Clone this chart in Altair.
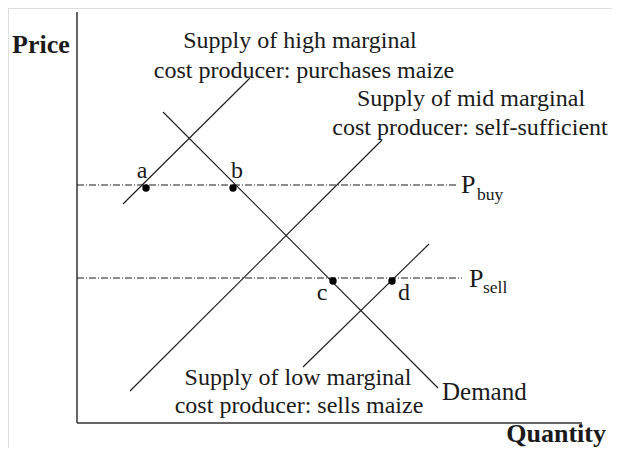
import altair as alt
import pandas as pd

# Coordinates in diagram units: quantity (x) and price (y), origin at the axes' corner
line_names = ["high", "high", "demand", "demand", "mid", "mid", "low", "low"]
line_q = [46, 173, 86, 361, 53, 305, 226, 352]
line_p = [219, 345, 311, 35, 32, 283, 56, 179]

price_names = ["Pbuy", "Pbuy", "Psell", "Psell"]
price_q = [0, 381, 0, 385]
price_p = [238, 238, 145, 145]

axis_names = ["yaxis", "yaxis", "xaxis", "xaxis"]
axis_q = [0, 0, 0, 505]
axis_p = [0, 411, 0, 0]

pt_q = [69, 156, 256, 315]
pt_p = [235, 235, 142, 142]

lbl_text = ["Supply of high marginal", "cost producer: purchases maize",
            "Supply of mid marginal", "cost producer: self-sufficient",
            "Supply of low marginal", "cost producer: sells maize",
            "a", "b", "c", "d"]
lbl_q = [223, 227, 394, 393, 221, 222, 65, 160, 245, 327]
lbl_p = [375, 345, 317, 288, 38, 10, 245, 245, 123, 123]

left_text = ["Demand"]
left_q = [365]
left_p = [23]

pletter_text = ["P", "P"]
pletter_q = [384, 392]
pletter_p = [230, 136]

sub_text = ["buy", "sell"]
sub_q = [400, 406]
sub_p = [223, 130]

bold_text = ["Price", "Quantity"]
bold_q = [-65, 529]
bold_p = [370, -19]
bold_align = ["left", "right"]

X = alt.Scale(domain=[-69, 535])
Y = alt.Scale(domain=[-25, 415])
FONT = "Liberation Serif"
INK = "#1a1a1a"

lines_df = pd.DataFrame({"name": line_names, "q": line_q, "p": line_p})
price_df = pd.DataFrame({"name": price_names, "q": price_q, "p": price_p})
axis_df = pd.DataFrame({"name": axis_names, "q": axis_q, "p": axis_p})
pts_df = pd.DataFrame({"q": pt_q, "p": pt_p})
lbl_df = pd.DataFrame({"t": lbl_text, "q": lbl_q, "p": lbl_p})
left_df = pd.DataFrame({"t": left_text, "q": left_q, "p": left_p})
pl_df = pd.DataFrame({"t": pletter_text, "q": pletter_q, "p": pletter_p})
sub_df = pd.DataFrame({"t": sub_text, "q": sub_q, "p": sub_p})
bold_df = pd.DataFrame({"t": bold_text, "q": bold_q, "p": bold_p, "a": bold_align})

def xy():
    return dict(x=alt.X("q:Q", scale=X, axis=None), y=alt.Y("p:Q", scale=Y, axis=None))

curves = alt.Chart(lines_df).mark_line(color=INK, strokeWidth=1.1).encode(
    detail="name:N", **xy())
prices = alt.Chart(price_df).mark_line(color=INK, strokeWidth=1, strokeDash=[7, 2, 1, 2]).encode(
    detail="name:N", **xy())
axes = alt.Chart(axis_df).mark_line(color="#333333", strokeWidth=1.5).encode(
    detail="name:N", **xy())
pts = alt.Chart(pts_df).mark_circle(color="black", size=55, opacity=1).encode(**xy())
labels = alt.Chart(lbl_df).mark_text(font=FONT, fontSize=24, color=INK, align="center",
                                     baseline="alphabetic").encode(text="t:N", **xy())
lefts = alt.Chart(left_df).mark_text(font=FONT, fontSize=25, color=INK, align="left",
                                     baseline="alphabetic").encode(text="t:N", **xy())
pletters = alt.Chart(pl_df).mark_text(font=FONT, fontSize=26, color=INK, align="left",
                                      baseline="alphabetic").encode(text="t:N", **xy())
subs = alt.Chart(sub_df).mark_text(font=FONT, fontSize=17.5, color=INK, align="left",
                                   baseline="alphabetic").encode(text="t:N", **xy())
bold_l = alt.Chart(bold_df[bold_df.a == "left"]).mark_text(
    font=FONT, fontSize=26, fontWeight="bold", color=INK, align="left",
    baseline="alphabetic").encode(text="t:N", **xy())
bold_r = alt.Chart(bold_df[bold_df.a == "right"]).mark_text(
    font=FONT, fontSize=26, fontWeight="bold", color=INK, align="right",
    baseline="alphabetic").encode(text="t:N", **xy())

chart = alt.layer(axes, prices, curves, pts, labels, lefts, pletters, subs, bold_l, bold_r).properties(
    width=604, height=440, padding=0, autosize="none"
).configure_view(stroke="transparent", strokeWidth=0).configure(background="white")

chart.save("out.html", embed_options={"renderer": "svg", "actions": False})
